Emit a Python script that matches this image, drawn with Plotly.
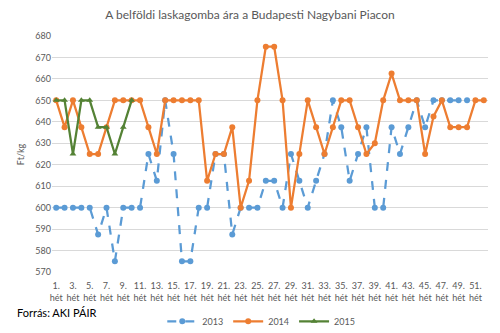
import plotly.graph_objects as go

weeks_2013 = list(range(1, 51))
vals_2013 = [600, 600, 600, 600, 600, 587.5, 600, 575, 600, 600,
             600, 625, 612.5, 650, 625, 575, 575, 600, 600, 625,
             625, 587.5, 600, 600, 600, 612.5, 612.5, 600, 625, 612.5,
             600, 612.5, 625, 650, 637.5, 612.5, 625, 637.5, 600, 600,
             637.5, 625, 637.5, 650, 637.5, 650, 650, 650, 650, 650]

weeks_2014 = list(range(1, 53))
vals_2014 = [650, 637.5, 650, 637.5, 625, 625, 637.5, 650, 650, 650,
             650, 637.5, 625, 650, 650, 650, 650, 650, 612.5, 625,
             625, 637.5, 600, 612.5, 650, 675, 675, 650, 600, 625,
             650, 637.5, 625, 637.5, 650, 650, 637.5, 625, 630, 650,
             662.5, 650, 650, 650, 625, 642.5, 650, 637.5, 637.5, 637.5,
             650, 650]

weeks_2015 = list(range(1, 11))
vals_2015 = [650, 650, 625, 650, 650, 637.5, 637.5, 625, 637.5, 650]

tick_weeks = list(range(1, 52, 2))
tick_labels = [f"{w}.<br>hét" for w in tick_weeks]

FONT = "Lato, 'Open Sans', sans-serif"
GREY = "#595959"

fig = go.Figure()
fig.add_trace(go.Scatter(
    x=weeks_2013, y=vals_2013, name="2013", mode="lines+markers",
    line=dict(color="#5B9BD5", width=2.25, dash="dash"),
    marker=dict(symbol="circle", size=6, color="#5B9BD5")))
fig.add_trace(go.Scatter(
    x=weeks_2014, y=vals_2014, name="2014", mode="lines+markers",
    line=dict(color="#ED7D31", width=2.25),
    marker=dict(symbol="circle", size=6, color="#ED7D31")))
fig.add_trace(go.Scatter(
    x=weeks_2015, y=vals_2015, name="2015", mode="lines+markers",
    line=dict(color="#548235", width=2.25),
    marker=dict(symbol="triangle-up", size=6, color="#548235")))

fig.update_layout(
    width=500, height=333,
    margin=dict(l=52, r=12, t=36, b=61, autoexpand=False),
    paper_bgcolor="white", plot_bgcolor="white",
    font=dict(family=FONT, size=10, color=GREY),
    title=dict(text="A belföldi laskagomba ára a Budapesti Nagybani Piacon",
               x=0.5, xanchor="center", y=0.955, yanchor="middle",
               font=dict(family=FONT, size=12, color=GREY)),
    xaxis=dict(range=[0.5, 52.5], tickmode="array", tickvals=tick_weeks,
               ticktext=tick_labels, showgrid=False, zeroline=False,
               showline=False, ticks="", ticklabelstandoff=7,
               automargin=False, tickfont=dict(size=9, color=GREY)),
    yaxis=dict(range=[570, 680], dtick=10, showgrid=True, gridcolor="#D9D9D9",
               gridwidth=1, zeroline=False, showline=False, ticks="",
               automargin=False, tickfont=dict(size=9, color=GREY)),
    legend=dict(orientation="h", x=0.48, xanchor="center",
                yref="container", y=0.035, yanchor="middle",
                font=dict(size=9, color=GREY), itemwidth=30),
    showlegend=True,
    annotations=[
        dict(text="Ft/kg", xref="paper", yref="paper", x=-0.073, y=0.5,
             textangle=-90, showarrow=False, xanchor="center",
             yanchor="middle", font=dict(size=9, color=GREY)),
        dict(text="Forrás: AKI PÁIR", xref="paper", yref="paper",
             x=-0.085, y=-0.17, xanchor="left", yanchor="middle",
             showarrow=False, font=dict(size=11, color="#000000")),
    ],
)

fig.write_html("out.html")
